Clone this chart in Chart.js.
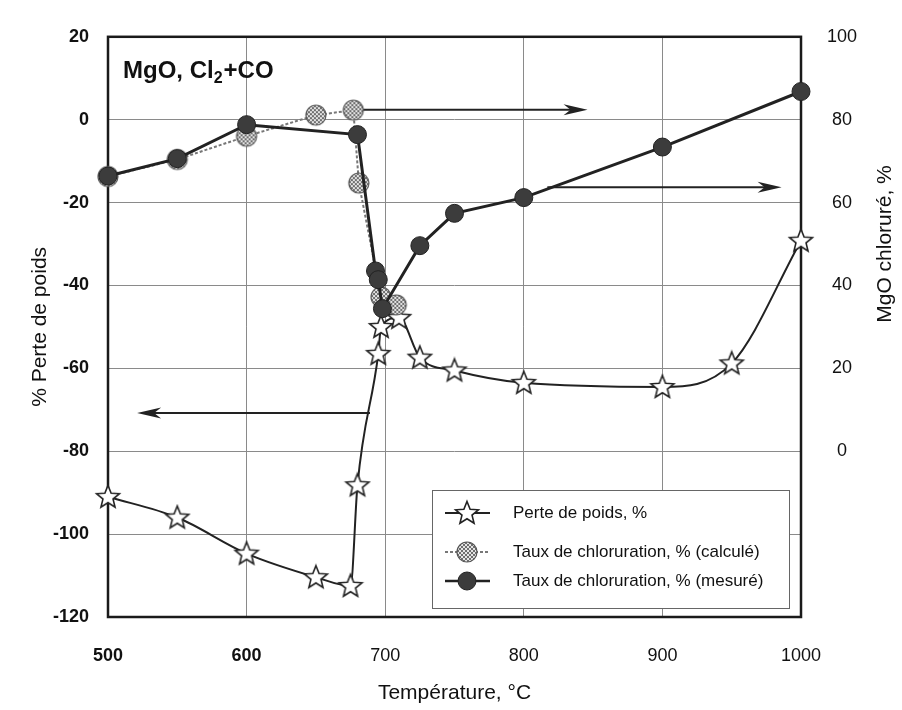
<!DOCTYPE html>
<html lang="fr">
<head>
<meta charset="utf-8">
<title>MgO, Cl2+CO</title>
<script src="https://cdn.jsdelivr.net/npm/chart.js@4.4.1/dist/chart.umd.min.js"></script>
<style>
  html, body { margin: 0; padding: 0; background: #fff; }
</style>
</head>
<body>
<canvas id="chart" width="902" height="710"></canvas>
<script>
// Perte de poids, % (left axis)
const perteTemp   = [500, 550, 600, 650, 675, 680, 695, 697, 710, 725, 750, 800, 900, 950, 1000];
const perteValues = [-91, -96, -104.7, -110.4, -112.5, -88.2, -56.5, -50, -47.8, -57.4, -60.5, -63.5, -64.5, -58.8, -29.2];

// Taux de chloruration, % (calculé) - right axis
const calcTemp   = [500, 550, 600, 650, 677, 681, 697, 708];
const calcValues = [66.3, 70.4, 76, 81.1, 82.3, 64.7, 37.2, 35.3];

// Taux de chloruration, % (mesuré) - right axis
const mesTemp   = [500, 550, 600, 680, 693, 695, 698, 725, 750, 800, 900, 1000];
const mesValues = [66.4, 70.6, 78.8, 76.4, 43.5, 41.4, 34.4, 49.6, 57.4, 61.2, 73.4, 86.8];

// tick labels
const xTicks     = [500, 600, 700, 800, 900, 1000];
const leftTicks  = [-120, -100, -80, -60, -40, -20, 0, 20];
const rightTicks = [0, 20, 40, 60, 80, 100];

// arrows (°C from -> to, left axis value)
const arrowFrom = [682, 817, 689];
const arrowTo   = [846, 986, 521];
const arrowY    = [2.4, -16.3, -70.8];

const FONT = "'Liberation Sans', Arial, sans-serif";
Chart.defaults.font.family = FONT;
Chart.defaults.color = '#111';

function makeStar() {
    const c = document.createElement('canvas');
    c.width = c.height = 28;
    const g = c.getContext('2d');
    g.beginPath();
    for (let i = 0; i < 10; i++) {
        const r = i % 2 ? 5.3 : 12;
        const a = -Math.PI / 2 + i * Math.PI / 5;
        g.lineTo(14 + r * Math.cos(a), 14.5 + r * Math.sin(a));
    }
    g.closePath();
    g.fillStyle = '#fff';
    g.fill();
    g.lineWidth = 1.6;
    g.strokeStyle = '#222';
    g.stroke();
    return c;
}

function makeHatch() {
    const c = document.createElement('canvas');
    c.width = c.height = 24;
    const g = c.getContext('2d');
    g.save();
    g.beginPath();
    g.arc(12, 12, 10, 0, Math.PI * 2);
    g.clip();
    g.fillStyle = '#e4e4e4';
    g.fillRect(0, 0, 24, 24);
    g.fillStyle = '#6e6e6e';
    for (let y = 0; y < 24; y += 2) {
        for (let x = (y / 2) % 2 ? 2 : 0; x < 24; x += 4) {
            g.fillRect(x, y, 2, 2);
        }
    }
    g.restore();
    g.beginPath();
    g.arc(12, 12, 10, 0, Math.PI * 2);
    g.lineWidth = 1.2;
    g.strokeStyle = '#555';
    g.stroke();
    return c;
}

const starImg = makeStar();
const hatchImg = makeHatch();

const toPoints = (xs, ys) => xs.map((x, i) => ({ x: x, y: ys[i] }));

// frame, arrows, title, right axis label and legend
const decorPlugin = {
    id: 'decor',
    beforeDatasetsDraw(chart) {
        const { ctx, chartArea: a, scales } = chart;
        ctx.save();
        ctx.strokeStyle = '#1a1a1a';
        ctx.lineWidth = 2.5;
        ctx.strokeRect(a.left, a.top, a.right - a.left, a.bottom - a.top);

        // arrows
        ctx.strokeStyle = '#222';
        ctx.fillStyle = '#222';
        ctx.lineWidth = 2;
        arrowFrom.forEach((from, i) => {
            const x1 = scales.x.getPixelForValue(from);
            const x2 = scales.x.getPixelForValue(arrowTo[i]);
            const y = scales.y.getPixelForValue(arrowY[i]);
            const dir = x2 > x1 ? 1 : -1;
            ctx.beginPath();
            ctx.moveTo(x1, y);
            ctx.lineTo(x2 - dir * 12, y);
            ctx.stroke();
            ctx.beginPath();
            ctx.moveTo(x2, y);
            ctx.lineTo(x2 - dir * 24, y - 5.5);
            ctx.lineTo(x2 - dir * 17, y);
            ctx.lineTo(x2 - dir * 24, y + 5.5);
            ctx.closePath();
            ctx.fill();
        });
        ctx.restore();
    },
    afterDraw(chart) {
        const { ctx, chartArea: a, scales } = chart;
        ctx.save();
        ctx.fillStyle = '#111';
        ctx.textBaseline = 'alphabetic';
        ctx.textAlign = 'left';

        // plot label MgO, Cl2+CO
        let x = a.left + 15;
        const base = a.top + 41;
        ctx.font = 'bold 24px ' + FONT;
        ctx.fillText('MgO, Cl', x, base);
        x += ctx.measureText('MgO, Cl').width;
        ctx.font = 'bold 16px ' + FONT;
        ctx.fillText('2', x, base + 5);
        x += ctx.measureText('2').width + 1;
        ctx.font = 'bold 24px ' + FONT;
        ctx.fillText('+CO', x, base);

        // right axis title
        const yMid = (scales.y2.getPixelForValue(0) + scales.y2.getPixelForValue(100)) / 2;
        ctx.save();
        ctx.translate(a.right + 84, yMid);
        ctx.rotate(-Math.PI / 2);
        ctx.textAlign = 'center';
        ctx.textBaseline = 'middle';
        ctx.font = '21px ' + FONT;
        ctx.fillText('MgO chloruré, %', 0, 0);
        ctx.restore();

        // legend
        const bx = 432, by = 490, bw = 357, bh = 118;
        ctx.fillStyle = '#fff';
        ctx.fillRect(bx, by, bw, bh);
        ctx.strokeStyle = '#666';
        ctx.lineWidth = 1;
        ctx.strokeRect(bx + 0.5, by + 0.5, bw, bh);

        const rows = [by + 23, by + 62, by + 91];
        const labels = ['Perte de poids, %', 'Taux de chloruration, % (calculé)', 'Taux de chloruration, % (mesuré)'];
        rows.forEach((ry, i) => {
            ctx.save();
            ctx.beginPath();
            ctx.moveTo(bx + 13, ry);
            ctx.lineTo(bx + 58, ry);
            if (i === 1) {
                ctx.setLineDash([3, 2]);
                ctx.strokeStyle = '#777';
                ctx.lineWidth = 2;
            } else {
                ctx.strokeStyle = '#222';
                ctx.lineWidth = i === 0 ? 2 : 2.5;
            }
            ctx.stroke();
            ctx.restore();
            const mx = bx + 35;
            if (i === 0) ctx.drawImage(starImg, mx - 14, ry - 14);
            else if (i === 1) ctx.drawImage(hatchImg, mx - 12, ry - 12);
            else {
                ctx.beginPath();
                ctx.arc(mx, ry, 9, 0, Math.PI * 2);
                ctx.fillStyle = '#3c3c3c';
                ctx.fill();
                ctx.strokeStyle = '#222';
                ctx.stroke();
            }
            ctx.fillStyle = '#111';
            ctx.font = '17px ' + FONT;
            ctx.textBaseline = 'middle';
            ctx.fillText(labels[i], bx + 81, ry);
        });
        ctx.restore();
    }
};

new Chart(document.getElementById('chart'), {
    type: 'line',
    data: {
        datasets: [
            {
                label: 'Perte de poids, %',
                data: toPoints(perteTemp, perteValues),
                yAxisID: 'y',
                borderColor: '#222',
                borderWidth: 2,
                cubicInterpolationMode: 'monotone',
                pointStyle: starImg,
                pointRadius: 12,
                clip: false,
                order: 3
            },
            {
                label: 'Taux de chloruration, % (calculé)',
                data: toPoints(calcTemp, calcValues),
                yAxisID: 'y2',
                borderColor: '#777',
                borderWidth: 2,
                borderDash: [3, 2],
                tension: 0,
                pointStyle: hatchImg,
                pointRadius: 10,
                clip: false,
                order: 2
            },
            {
                label: 'Taux de chloruration, % (mesuré)',
                data: toPoints(mesTemp, mesValues),
                yAxisID: 'y2',
                borderColor: '#222',
                borderWidth: 3,
                tension: 0,
                pointStyle: 'circle',
                pointRadius: 9,
                pointBackgroundColor: '#3c3c3c',
                pointBorderColor: '#222',
                pointBorderWidth: 1,
                clip: false,
                order: 1
            }
        ]
    },
    options: {
        responsive: false,
        animation: false,
        layout: { padding: { top: 23, left: 0, right: 0, bottom: 0 } },
        plugins: {
            legend: { display: false },
            tooltip: { enabled: false }
        },
        scales: {
            x: {
                type: 'linear',
                min: 500,
                max: 1000,
                afterBuildTicks: s => { s.ticks = xTicks.map(v => ({ value: v })); },
                afterFit: s => { s.height = 93; },
                grid: { color: '#8a8a8a', lineWidth: 1, drawTicks: false },
                border: { display: false },
                ticks: {
                    padding: 28,
                    maxRotation: 0,
                    color: '#111',
                    callback: v => String(v),
                    font: c => ({ size: 18, weight: (c.tick && c.tick.value <= 600) ? 'bold' : 'normal' })
                },
                title: {
                    display: true,
                    text: 'Température, °C',
                    font: { size: 21 },
                    color: '#111',
                    padding: { top: 0, bottom: 4 }
                }
            },
            y: {
                position: 'left',
                min: -120,
                max: 20,
                afterBuildTicks: s => { s.ticks = leftTicks.map(v => ({ value: v })); },
                afterFit: s => { s.width = 108; },
                grid: { color: '#8a8a8a', lineWidth: 1, drawTicks: false },
                border: { display: false },
                ticks: { padding: 19, color: '#111', callback: v => String(v), font: { size: 18, weight: 'bold' } },
                title: {
                    display: true,
                    text: '% Perte de poids',
                    font: { size: 21 },
                    color: '#111',
                    padding: { top: 28, bottom: 0 }
                }
            },
            y2: {
                position: 'right',
                min: -40,
                max: 100,
                afterBuildTicks: s => { s.ticks = rightTicks.map(v => ({ value: v })); },
                afterFit: s => { s.width = 101; },
                grid: { display: false, drawTicks: false },
                border: { display: false },
                ticks: { padding: 26, crossAlign: 'center', color: '#111', callback: v => String(v), font: { size: 18 } }
            }
        }
    },
    plugins: [decorPlugin]
});
</script>
</body>
</html>
